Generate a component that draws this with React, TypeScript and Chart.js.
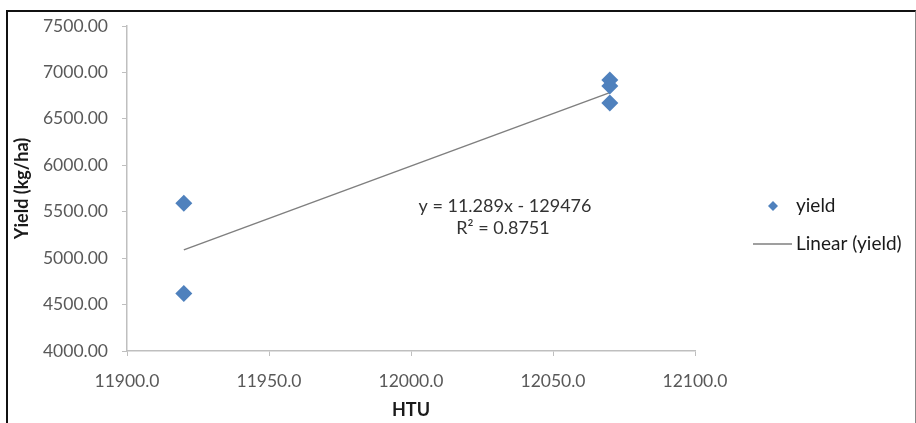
import React, { useEffect, useRef } from "react";
import { Chart, registerables } from "chart.js";

Chart.register(...registerables);

const htu: number[] = [11920, 11920, 12070, 12070, 12070];
const yieldValues: number[] = [5590, 4620, 6918, 6853, 6670];
const trendSlope = 11.289;
const trendIntercept = -129476;
const trendX: number[] = [11920, 12070];
const xTicks: number[] = [11900, 11950, 12000, 12050, 12100];
const yTicks: number[] = [4000, 4500, 5000, 5500, 6000, 6500, 7000, 7500];
const equationLines: string[] = ["y = 11.289x - 129476", "R² = 0.8751"];
const seriesName = "yield";
const trendName = "Linear (yield)";
const xTitle = "HTU";
const yTitle = "Yield (kg/ha)";

const FONT = "Lato, 'Open Sans', sans-serif";
const BLUE = "#4f81bd";
const AXIS = "#bfbfbf";

const overlayPlugin = {
  id: "overlay",
  afterDraw(chart: any) {
    const ctx = chart.ctx;
    ctx.save();
    // equation text
    ctx.fillStyle = "#333333";
    ctx.font = `18px ${FONT}`;
    ctx.textAlign = "center";
    ctx.textBaseline = "middle";
    ctx.fillText(equationLines[0], 505, 206);
    ctx.fillText(equationLines[1], 503, 228);
    // legend
    ctx.fillStyle = BLUE;
    ctx.beginPath();
    const cx = 773, cy = 206, r = 5;
    ctx.moveTo(cx, cy - r);
    ctx.lineTo(cx + r, cy);
    ctx.lineTo(cx, cy + r);
    ctx.lineTo(cx - r, cy);
    ctx.closePath();
    ctx.fill();
    ctx.strokeStyle = "#7f7f7f";
    ctx.lineWidth = 1.5;
    ctx.beginPath();
    ctx.moveTo(753, 244);
    ctx.lineTo(792, 244);
    ctx.stroke();
    ctx.fillStyle = "#1a1a1a";
    ctx.font = `19px ${FONT}`;
    ctx.textAlign = "left";
    ctx.fillText(seriesName, 796, 206);
    ctx.fillText(trendName, 796, 244);
    ctx.restore();
  },
};

export default function App() {
  const ref = useRef<HTMLCanvasElement>(null);
  useEffect(() => {
    if (!ref.current) return;
    const scatter = htu.map((x, i) => ({ x, y: yieldValues[i] }));
    const trend = trendX.map((x) => ({ x, y: trendSlope * x + trendIntercept }));
    const chart = new Chart(ref.current, {
      type: "scatter",
      data: {
        datasets: [
          {
            label: trendName,
            data: trend,
            showLine: true,
            borderColor: "#7f7f7f",
            borderWidth: 1.5,
            pointRadius: 0,
            fill: false,
            order: 2,
          } as any,
          {
            label: seriesName,
            data: scatter,
            pointStyle: "rectRot",
            pointRadius: 8.5,
            backgroundColor: BLUE,
            borderColor: BLUE,
            borderWidth: 0,
            order: 1,
          } as any,
        ],
      },
      options: {
        responsive: false,
        animation: false,
        layout: { padding: { left: 0, right: 221, top: 26, bottom: 0 } },
        plugins: { legend: { display: false }, tooltip: { enabled: false } },
        scales: {
          x: {
            type: "linear",
            min: xTicks[0],
            max: xTicks[xTicks.length - 1],
            afterBuildTicks(scale: any) {
              scale.ticks = xTicks.map((v) => ({ value: v }));
            },
            afterFit(scale: any) {
              scale.height = 72;
            },
            ticks: {
              color: "#595959",
              font: { family: FONT, size: 17.5 },
              padding: 15,
              maxRotation: 0,
              callback: (v: any) => Number(v).toFixed(1),
            },
            grid: { display: true, drawOnChartArea: false, tickLength: 5, color: AXIS },
            border: { color: AXIS, width: 1.5 },
            title: {
              display: true,
              text: xTitle,
              color: "#1a1a1a",
              font: { family: FONT, size: 18, weight: "bold" },
              padding: { top: 0, bottom: 2 },
            },
          },
          y: {
            type: "linear",
            min: yTicks[0],
            max: yTicks[yTicks.length - 1],
            afterBuildTicks(scale: any) {
              scale.ticks = yTicks.map((v) => ({ value: v }));
            },
            afterFit(scale: any) {
              scale.width = 127;
            },
            ticks: {
              color: "#595959",
              font: { family: FONT, size: 17.5 },
              padding: 14,
              callback: (v: any) => Number(v).toFixed(2),
            },
            grid: { display: true, drawOnChartArea: false, tickLength: 5, color: AXIS },
            border: { color: AXIS, width: 1.5 },
            title: {
              display: true,
              text: yTitle,
              color: "#1a1a1a",
              font: { family: FONT, size: 18, weight: "bold" },
              padding: { top: 11, bottom: 0 },
            },
          },
        },
      },
      plugins: [overlayPlugin],
    } as any);
    return () => chart.destroy();
  }, []);

  return (
    <div style={{ position: "fixed", left: 0, top: 0, width: 916, height: 423, background: "#fff" }}>
      <canvas ref={ref} width={916} height={423} style={{ width: 916, height: 423, display: "block" }} />
      <div
        style={{
          position: "absolute",
          left: 6,
          top: 10,
          width: 910,
          height: 420,
          boxSizing: "border-box",
          borderTop: "2px solid #111",
          borderLeft: "2px solid #111",
          borderRight: "1px solid #888",
          pointerEvents: "none",
        }}
      />
    </div>
  );
}
